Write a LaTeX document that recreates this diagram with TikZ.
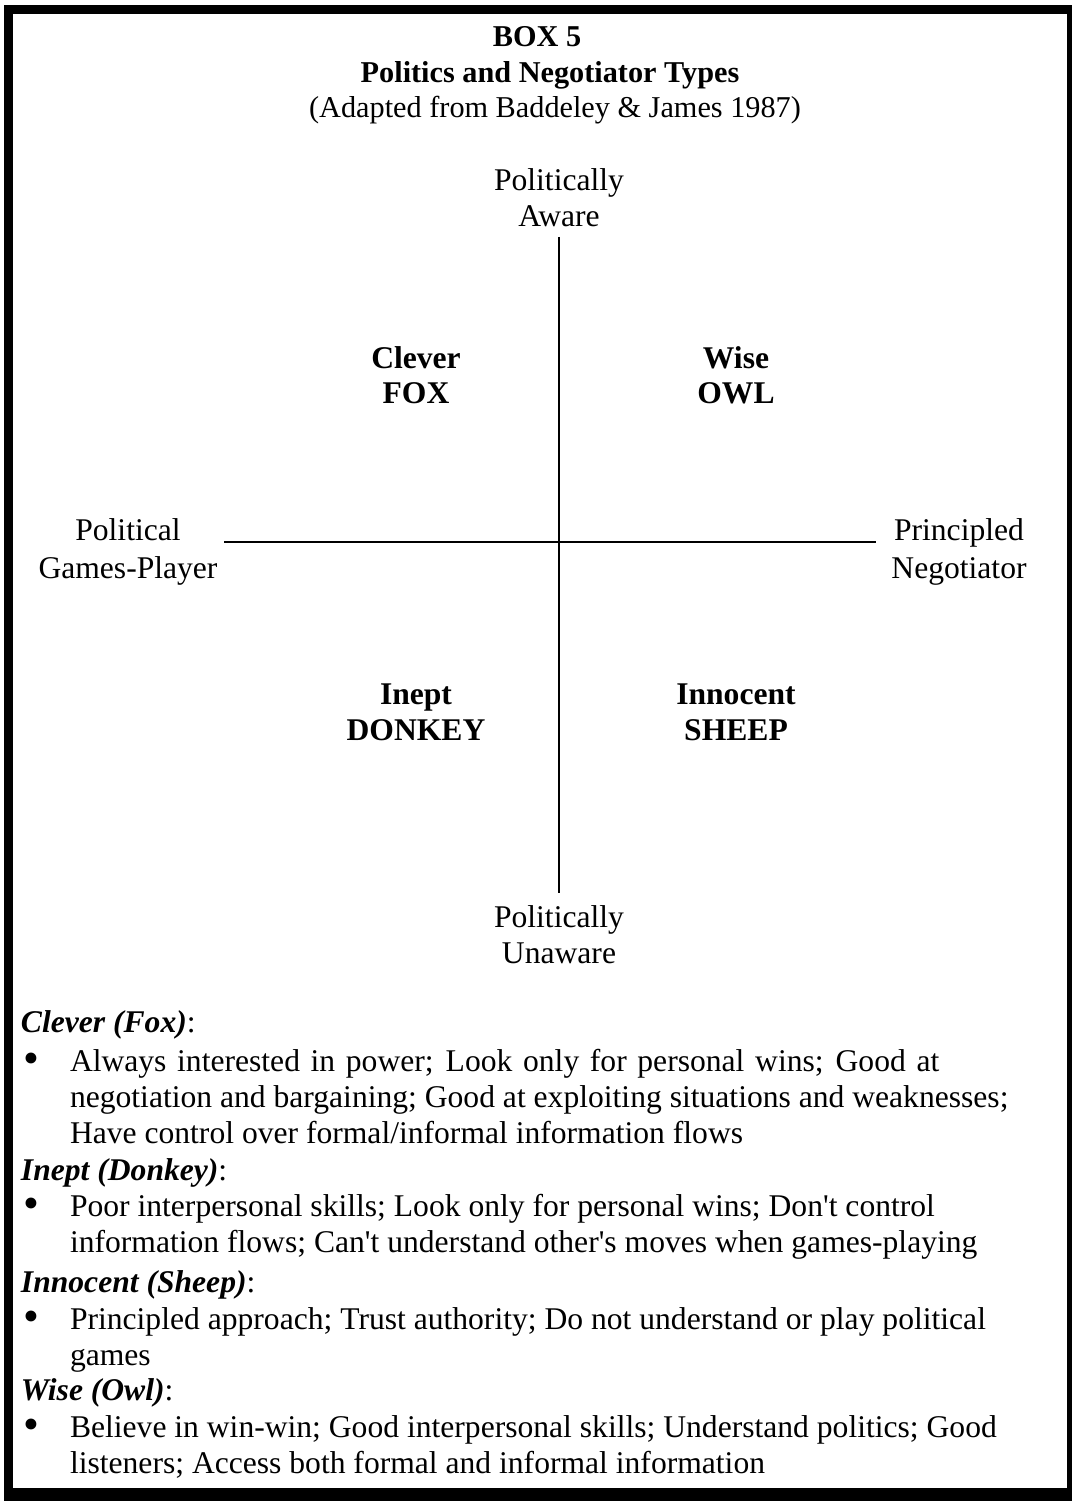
\documentclass[tikz,border=0pt]{standalone}
\usepackage{fontspec}
\setmainfont{Liberation Serif}
\begin{document}
\begin{tikzpicture}[x=0.75pt,y=-0.75pt,
  txt/.style={inner sep=0pt,outer sep=0pt,font=\fontsize{23.7}{27}\selectfont},
  ctr/.style={txt,anchor=base},
  lft/.style={txt,anchor=base west},
  bf/.style={font=\fontsize{23.7}{27}\selectfont\bfseries},
  ttl/.style={font=\fontsize{22.7}{27}\selectfont},
  bul/.style={inner sep=0pt,outer sep=0pt,anchor=base,font=\fontsize{34}{34}\selectfont},
  axis/.style={line width=1.4pt}]
\useasboundingbox (0,0) rectangle (1072,1501);
% frame
\fill[black] (4,5) rectangle (1072,1501);
\fill[white] (13,14) rectangle (1067,1488);
% title
\node[ctr,ttl] (t1) at (537,47) {\bfseries BOX 5};
\node[ctr,ttl] (t2) at (550,83) {\bfseries Politics and Negotiator Types};
\node[ctr,ttl] (t3) at (555,118) {(Adapted from Baddeley \& James 1987)};
% axis labels
\node[ctr] (pa1) at (559,191) {Politically};
\node[ctr] (pa2) at (559,227) {Aware};
\node[ctr] (pu1) at (559,927) {Politically};
\node[ctr] (pu2) at (559,963) {Unaware};
\node[ctr] (gp1) at (128,540) {Political};
\node[ctr] (gp2) at (128,578) {Games-Player};
\node[ctr] (pn1) at (959,540) {Principled};
\node[ctr] (pn2) at (959,578) {Negotiator};
% axes
\coordinate (atop) at (559,237);
\coordinate (abot) at (559,893);
\coordinate (alft) at (224,542);
\coordinate (argt) at (876,542);
\draw[axis] (atop) -- (abot);
\draw[axis] (alft) -- (argt);
% quadrant labels
\node[ctr,bf] (q1a) at (416,368) {Clever};
\node[ctr,bf] (q1b) at (416,403) {FOX};
\node[ctr,bf] (q2a) at (736,368) {Wise};
\node[ctr,bf] (q2b) at (736,403) {OWL};
\node[ctr,bf] (q3a) at (416,704) {Inept};
\node[ctr,bf] (q3b) at (416,740) {DONKEY};
\node[ctr,bf] (q4a) at (736,704) {Innocent};
\node[ctr,bf] (q4b) at (736,740) {SHEEP};
% descriptions
\node[lft] (h1) at (21,1032) {\textbf{\textit{Clever (Fox)}}:};
\node[bul] (b1) at (31,1073) {•};
\node[lft] (l1a) at (70,1071) {\makebox[652pt][s]{Always interested in power; Look only for personal wins; Good at}};
\node[lft] (l1b) at (70,1107) {negotiation and bargaining; Good at exploiting situations and weaknesses;};
\node[lft] (l1c) at (70,1143) {Have control over formal/informal information flows};
\node[lft] (h2) at (21,1180) {\textbf{\textit{Inept (Donkey)}}:};
\node[bul] (b2) at (31,1218) {•};
\node[lft] (l2a) at (70,1216) {Poor interpersonal skills; Look only for personal wins; Don\textquotesingle t control};
\node[lft] (l2b) at (70,1252) {information flows; Can\textquotesingle t understand other\textquotesingle s moves when games-playing};
\node[lft] (h3) at (21,1292) {\textbf{\textit{Innocent (Sheep)}}:};
\node[bul] (b3) at (31,1331) {•};
\node[lft] (l3a) at (70,1329) {Principled approach; Trust authority; Do not understand or play political};
\node[lft] (l3b) at (70,1365) {games};
\node[lft] (h4) at (21,1400) {\textbf{\textit{Wise (Owl)}}:};
\node[bul] (b4) at (31,1439) {•};
\node[lft] (l4a) at (70,1437) {Believe in win-win; Good interpersonal skills; Understand politics; Good};
\node[lft] (l4b) at (70,1473) {listeners; Access both formal and informal information};
\end{tikzpicture}
\end{document}
